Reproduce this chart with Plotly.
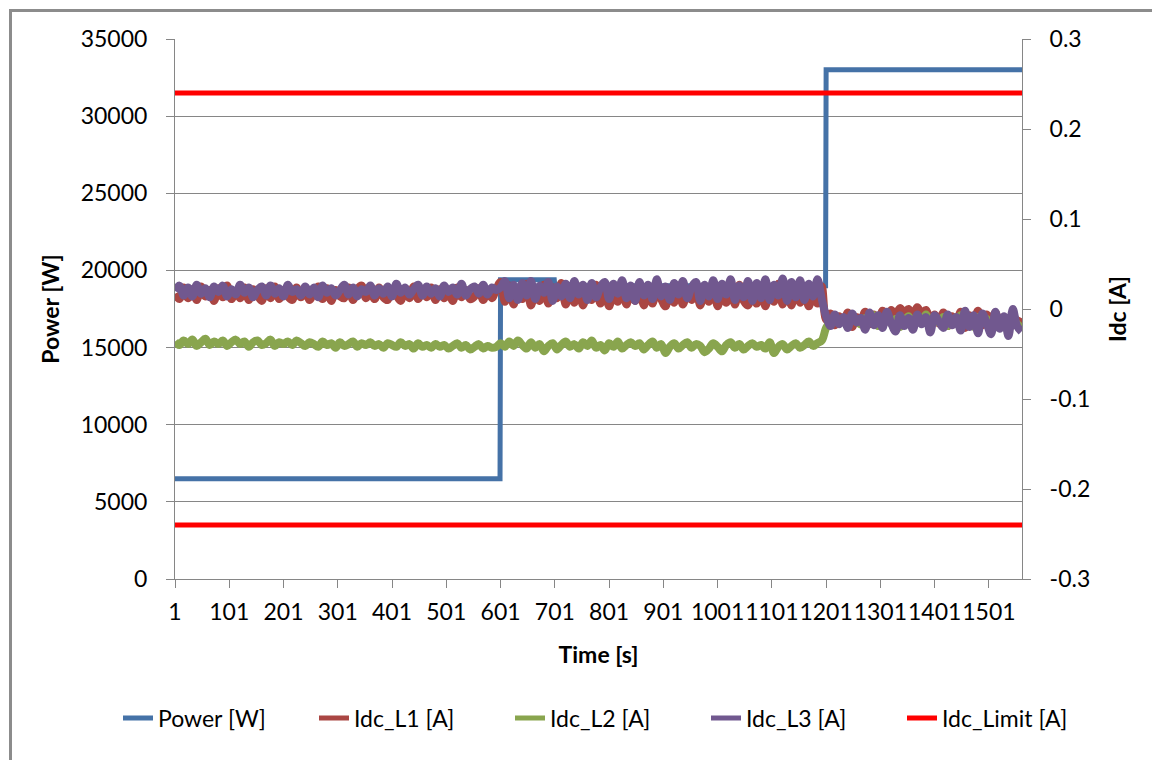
import plotly.graph_objects as go

# ---------------------------------------------------------------------------
# Data
# ---------------------------------------------------------------------------
RUN_END_S = 1562          # last second of the logged run
SAMPLE_STEP_S = 8         # current channels are kept every 8th second

time_s = list(range(1, RUN_END_S, SAMPLE_STEP_S))   # 1, 9, ..., 1561

# inverter output power: three load steps
power_time_s = [1, 600, 601, 700, 701, 1200, 1201, 1562]
power_w = [6500, 6500, 19400, 19400, 19000, 19000, 33000, 33000]

# DC current injection per phase, in mA (one row = 15 samples)
idc_l1_ma = [
    17, 11, 24, 12, 22, 10, 25, 14, 21, 9, 23, 13, 26, 11, 20,
    12, 24, 10, 22, 15, 9, 23, 12, 25, 11, 21, 14, 10, 24, 13,
    22, 10, 19, 25, 11, 23, 9, 21, 14, 12, 24, 10, 22, 26, 12,
    20, 11, 24, 13, 10, 22, 15, 9, 23, 12, 25, 11, 21, 13, 24,
    10, 22, 12, 18, 9, 24, 13, 21, 11, 14, 23, 10, 20, 12, 22,
    30, 8, 26, 5, 22, 11, 28, 4, 19, 9, 27, 6, 24, 12, 29,
    5, 21, 7, 25, 4, 20, 10, 27, 6, 23, 3, 18, 8, 26, 5,
    22, 9, 28, 4, 19, 6, 24, 11, 3, 21, 7, 26, 5, 17, 10,
    25, 4, 20, 8, 29, 3, 18, 7, 23, 5, 27, 9, 4, 22, 6,
    24, 3, 19, 8, 28, 5, 21, 4, 26, 7, 22, 3, 18, 6, 25,
    -12, -5, -18, -8, -14, -4, -20, -9, -13, -3, -17, -6, -15, -2, -11,
    -1, -7, 1, -4, 0, -9, 2, -5, -1, -12, -6, -16, -4, -19, -8,
    -14, -3, -21, -7, -12, -2, -18, -6, -15, -4, -20, -9, -24, -5, -17,
    -10,
]

idc_l2_ma = [
    -36, -40, -35, -39, -34, -41, -37, -33, -40, -36, -39, -35, -41, -37, -34,
    -39, -36, -42, -37, -35, -40, -38, -34, -41, -37, -39, -36, -40, -35, -38,
    -41, -37, -39, -42, -36, -40, -38, -43, -37, -41, -39, -36, -42, -38, -40,
    -37, -41, -39, -43, -38, -40, -42, -37, -41, -39, -44, -38, -42, -40, -43,
    -39, -42, -40, -44, -41, -38, -43, -40, -45, -42, -39, -44, -41, -43, -42,
    -38, -42, -36, -41, -35, -40, -44, -37, -43, -39, -47, -41, -38, -45, -40,
    -36, -42, -39, -44, -37, -41, -35, -43, -40, -46, -38, -42, -36, -44, -40,
    -37, -41, -38, -45, -40, -36, -43, -39, -49, -42, -38, -44, -40, -37, -43,
    -39, -41, -48, -44, -38, -42, -47, -40, -37, -43, -39, -45, -41, -38, -42,
    -40, -44, -37, -49, -42, -39, -45, -41, -38, -43, -40, -36, -41, -38, -35,
    -21, -14, -9, -16, -11, -18, -8, -13, -17, -10, -15, -7, -19, -12, -9,
    -16, -11, -20, -13, -8, -17, -10, -14, -6, -18, -12, -15, -9, -19, -11,
    -14, -7, -17, -12, -20, -9, -15, -11, -22, -8, -16, -13, -24, -6, -18,
    -15,
]

idc_l3_ma = [
    20, 26, 15, 24, 14, 27, 17, 23, 13, 25, 19, 26, 14, 22, 16,
    27, 18, 24, 13, 21, 25, 15, 26, 17, 23, 14, 27, 19, 22, 15,
    25, 16, 24, 13, 26, 18, 23, 15, 21, 27, 16, 24, 14, 22, 19,
    26, 15, 23, 17, 25, 14, 28, 18, 24, 16, 22, 27, 15, 25, 17,
    23, 14, 26, 19, 24, 16, 28, 15, 22, 25, 17, 27, 16, 24, 21,
    24, 31, 12, 27, 10, 29, 15, 31, 11, 26, 18, 30, 9, 25, 14,
    28, 12, 31, 16, 27, 10, 29, 13, 24, 30, 11, 28, 17, 32, 12,
    26, 9, 30, 15, 27, 11, 33, 14, 25, 10, 29, 16, 31, 12, 24,
    30, 9, 27, 14, 32, 11, 28, 16, 33, 10, 26, 13, 31, 9, 29,
    12, 33, 10, 27, 15, 34, 9, 30, 13, 32, 10, 28, 14, 33, 11,
    -8, -19, -6, -17, -9, -21, -5, -15, -10, -23, -4, -18, -7, -21, -3,
    -16, -25, -7, -19, -10, -23, -6, -17, -9, -26, -7, -14, -21, -6, -18,
    -9, -24, -2, -20, -7, -27, -5, -16, -28, -3, -22, -8, -30, 0, -19,
    -25,
]

# permitted DC current band (upper and lower limit)
idc_limit_a = [0.24, -0.24]

# axis ticks
time_ticks = [1, 101, 201, 301, 401, 501, 601, 701, 801, 901,
              1001, 1101, 1201, 1301, 1401, 1501]
idc_ticks = [-0.3, -0.2, -0.1, 0, 0.1, 0.2, 0.3]
idc_tick_text = ["-0.3", "-0.2", "-0.1", "0", "0.1", "0.2", "0.3"]

# ---------------------------------------------------------------------------
# Styling
# ---------------------------------------------------------------------------
W, H = 1152, 760
M_L, M_R, M_T, M_B = 175, 130, 39, 181
PLOT_W = W - M_L - M_R
PLOT_H = H - M_T - M_B

FONT = "Lato"
AXIS_GREY = "#868686"
FRAME_GREY = "#8c8c8c"

C_POWER = "#4572A7"
C_L1 = "#AA4643"
C_L2 = "#89A54E"
C_L3 = "#71588F"
C_LIMIT = "#FF0000"

NOISE_WIDTH = 8      # measured channels are drawn as broad bands
LEGEND_WIDTH = 5     # legend keys use the plain series width


def px_to_paper_x(px):
    return (px - M_L) / PLOT_W


def px_to_paper_y(py):
    return (H - M_B - py) / PLOT_H


def to_amps(values_ma):
    return [v / 1000 for v in values_ma]


def legend_key(name, color, axis):
    """Empty series that only supplies the legend entry of a group."""
    return go.Scatter(
        x=[None], y=[None], name=name, mode="lines", legendgroup=name,
        line=dict(color=color, width=LEGEND_WIDTH), yaxis=axis,
        hoverinfo="skip",
    )


fig = go.Figure()

fig.add_trace(go.Scatter(
    x=power_time_s, y=power_w, name="Power [W]", mode="lines",
    line=dict(color=C_POWER, width=5), yaxis="y",
))

for name, values, color in [
    ("Idc_L1 [A]", idc_l1_ma, C_L1),
    ("Idc_L2 [A]", idc_l2_ma, C_L2),
    ("Idc_L3 [A]", idc_l3_ma, C_L3),
]:
    fig.add_trace(legend_key(name, color, "y2"))
    fig.add_trace(go.Scatter(
        x=time_s[:len(values)], y=to_amps(values), name=name, mode="lines",
        legendgroup=name, showlegend=False,
        line=dict(color=color, width=NOISE_WIDTH, shape="spline",
                  smoothing=1.0),
        yaxis="y2",
    ))

# both limit lines belong to a single series (gap between them)
limit_x, limit_y = [], []
for level in idc_limit_a:
    limit_x += [time_s[0], RUN_END_S, None]
    limit_y += [level, level, None]
fig.add_trace(go.Scatter(
    x=limit_x, y=limit_y, name="Idc_Limit [A]", mode="lines",
    line=dict(color=C_LIMIT, width=5), yaxis="y2", connectgaps=False,
))

tick_font = dict(family=FONT, size=23, color="#000000")
title_font = dict(family=FONT, size=23, color="#000000")

fig.update_layout(
    width=W, height=H, autosize=False,
    margin=dict(l=M_L, r=M_R, t=M_T, b=M_B, pad=0),
    paper_bgcolor="white", plot_bgcolor="white",
    font=dict(family=FONT, size=23, color="#000000"),
    showlegend=True,
    legend=dict(
        orientation="h", xanchor="left", yanchor="middle",
        x=px_to_paper_x(118), y=px_to_paper_y(718),
        font=dict(family=FONT, size=23, color="#000000"),
        entrywidth=151, itemwidth=30, bgcolor="rgba(0,0,0,0)",
        traceorder="normal",
    ),
    xaxis=dict(
        range=[1, RUN_END_S], tickmode="array",
        tickvals=time_ticks, ticktext=[str(t) for t in time_ticks],
        tickangle=0,
        ticks="outside", ticklen=8, tickcolor=AXIS_GREY, tickwidth=1,
        showline=True, linecolor=AXIS_GREY, linewidth=1,
        showgrid=False, zeroline=False, tickfont=tick_font,
        ticklabelstandoff=4,
        title=dict(text="<b>Time [s]</b>", font=title_font, standoff=23),
    ),
    yaxis=dict(
        range=[0, 35000], dtick=5000, tick0=0, tickformat="d",
        ticks="outside", ticklen=8, tickcolor=AXIS_GREY, tickwidth=1,
        showline=True, linecolor=AXIS_GREY, linewidth=1,
        showgrid=True, gridcolor=AXIS_GREY, gridwidth=1,
        zeroline=False, tickfont=tick_font, ticklabelstandoff=14,
        title=dict(text="<b>Power [W]</b>", font=title_font, standoff=14),
    ),
    yaxis2=dict(
        range=[-0.3, 0.3], overlaying="y", side="right",
        tickmode="array", tickvals=idc_ticks, ticktext=idc_tick_text,
        ticks="outside", ticklen=8, tickcolor=AXIS_GREY, tickwidth=1,
        showline=True, linecolor=AXIS_GREY, linewidth=1,
        showgrid=False, zeroline=False, tickfont=tick_font,
        ticklabelstandoff=14,
        title=dict(text="<b>Idc [A]</b>", font=title_font, standoff=20),
    ),
)

# chart frame (continues past the right and bottom page edges)
fig.add_shape(
    type="rect", xref="paper", yref="paper",
    x0=px_to_paper_x(10.5), x1=px_to_paper_x(W + 20),
    y0=px_to_paper_y(10.5), y1=px_to_paper_y(H + 20),
    line=dict(color=FRAME_GREY, width=3), fillcolor="rgba(0,0,0,0)",
    layer="above",
)

fig.write_html("out.html")
